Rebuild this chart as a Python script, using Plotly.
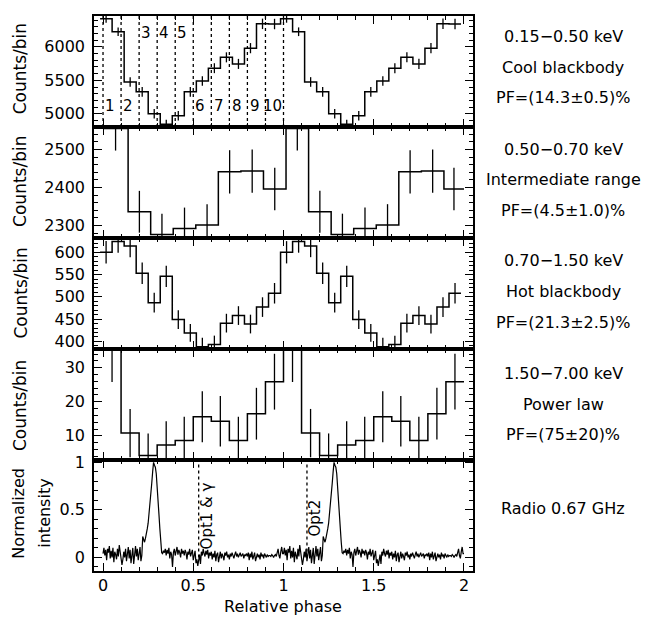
import numpy as np
import plotly.graph_objects as go

# ---------------- data ----------------
# panel 1: 0.15-0.50 keV, 15 bins per cycle (two cycles shown)
p1_edges0 = -0.0163
p1_nbin = 15
p1_counts = [6420, 6225, 5475, 5328, 5000, 4845, 4971, 5328, 5490, 5681,
             5843, 5745, 5980, 6343, 6340]
p1_err = [60, 65, 72, 72, 70, 68, 70, 72, 72, 74, 75, 75, 76, 78, 78]

# panel 2: 0.50-0.70 keV, 8 bins per cycle
p2_edges = [0.0, 0.139, 0.264, 0.389, 0.514, 0.639, 0.764, 0.889, 1.014,
            1.139, 1.264, 1.389, 1.514, 1.639, 1.764, 1.889, 2.0]
p2_counts = [2555, 2336, 2276, 2292, 2301, 2441, 2443, 2396]
p2_err = [58, 55, 55, 55, 55, 57, 57, 56]

# panel 3: 0.70-1.50 keV, 15 bins per cycle
p3_counts = [600, 624, 614, 553, 487, 546, 449, 419, 388, 393,
             441, 458, 439, 477, 508]
p3_err = [25, 25, 25, 24, 22, 24, 21, 20, 20, 20, 21, 21, 21, 22, 23]

# panel 4: 1.50-7.00 keV, 10 bins per cycle
p4_counts = [35.3, 10.8, 4.2, 7.3, 8.6, 15.6, 14.3, 8.6, 16.5, 25.9]
p4_err = [9.5, 7.1, 6.5, 7.0, 7.0, 7.5, 7.4, 7.0, 7.6, 8.2]

# panel 5: radio 0.67 GHz profile, 200 points per cycle
radio_profile = [
    # 0.000 - 0.105
    0.04, 0.10, 0.02, 0.08, -0.03, 0.09, 0.05, 0.12, -0.01, 0.07, 0.00,
    0.10, -0.05, 0.06, 0.03, -0.02, 0.09, 0.01, 0.13, 0.04, -0.03, -0.08,
    # 0.110 - 0.215
    -0.02, 0.06, 0.00, 0.09, -0.04, 0.03, 0.11, -0.01, 0.08, -0.06, 0.02,
    0.10, -0.07, 0.05, 0.12, 0.01, 0.09, -0.03, 0.06, 0.11, -0.04, 0.02,
    # 0.220 - 0.335 (main pulse)
    0.22, 0.19, 0.16, 0.20, 0.24, 0.30, 0.36, 0.45, 0.55, 0.66, 0.78, 0.90,
    1.00, 0.97, 0.95, 0.88, 0.76, 0.60, 0.45, 0.30, 0.16, 0.05, 0.04, 0.07,
    # 0.340 - 0.495
    0.05, 0.09, 0.02, 0.08, 0.04, 0.10, -0.01, 0.06, 0.03, -0.10, 0.05,
    0.09, 0.02, 0.07, 0.11, 0.03, 0.08, 0.05, 0.00, 0.09, 0.04, 0.07,
    0.02, 0.08, 0.05, -0.02, 0.06, 0.03, 0.09, 0.01, 0.05, 0.08,
    # 0.500 - 0.595
    -0.03, 0.04, 0.07, -0.06, -0.02, -0.09, -0.04, 0.03, -0.07, 0.06,
    0.02, 0.09, 0.04, 0.01, 0.07, 0.03, 0.08, -0.01, 0.05, 0.02,
    # 0.600 - 0.795
    0.06, -0.02, 0.04, 0.00, 0.07, -0.04, 0.03, 0.05, -0.05, 0.02,
    0.06, -0.01, 0.04, 0.01, -0.03, 0.05, 0.02, 0.06, 0.00, 0.03,
    -0.02, 0.04, 0.01, 0.05, 0.02, -0.01, 0.03, 0.06, 0.01, 0.04,
    0.00, 0.03, 0.05, 0.01, 0.02, 0.04, -0.01, 0.03, 0.02, 0.04,
    # 0.800 - 0.995
    0.01, 0.05, -0.03, 0.04, 0.00, 0.06, -0.02, 0.03, 0.05, -0.04,
    0.02, 0.04, 0.00, 0.03, -0.02, 0.05, 0.01, 0.03, -0.01, 0.04,
    0.02, 0.00, 0.03, 0.01, 0.02, 0.02, 0.01, 0.03, 0.02, 0.00,
    0.02, 0.03, 0.01, 0.05, 0.09, 0.02, -0.01, 0.06, 0.11, 0.04,
]

opt_lines = [0.53, 1.13]
opt_labels = ["Opt1 &amp; γ", "Opt2"]
region_lines = [0.0, 0.1, 0.2, 0.3, 0.4, 0.5, 0.6, 0.7, 0.8, 0.9, 1.0]
region_labels = ["1", "2", "3", "4", "5", "6", "7", "8", "9", "10"]

energy_text = [
    ["0.15−0.50 keV", "Cool blackbody", "PF=(14.3±0.5)%"],
    ["0.50−0.70 keV", "Intermediate range", "PF=(4.5±1.0)%"],
    ["0.70−1.50 keV", "Hot blackbody", "PF=(21.3±2.5)%"],
    ["1.50−7.00 keV", "Power law", "PF=(75±20)%"],
]

# ---------------- layout geometry ----------------
OFF = 8  # page body margin
W, H = 654, 614
ML, MT, PW, PH = 86, 1, 379, 562
MR = W - ML - PW
MB = H - MT - PH
FONT = "DejaVu Sans"
FS = 16


def pxx(sx):
    return (sx - OFF - ML) / PW


def pxy(sy):
    return (H - MB - (sy - OFF)) / PH


fig = go.Figure()
line = dict(color="black", width=1.5)
ebar = dict(type="data", color="black", thickness=1.3, width=0)


def add_hist(edges, vals, errs, ax):
    x = list(edges)
    y = list(vals) + [vals[-1]]
    fig.add_trace(go.Scatter(x=x, y=y, mode="lines", line=dict(shape="hv", **line),
                             xaxis="x" + ax, yaxis="y" + ax, showlegend=False,
                             hoverinfo="skip"))
    cx = [(edges[i] + edges[i + 1]) / 2 for i in range(len(vals))]
    fig.add_trace(go.Scatter(x=cx, y=vals, mode="markers", marker=dict(size=0.1, color="black"),
                             error_y=dict(array=errs, **ebar),
                             xaxis="x" + ax, yaxis="y" + ax, showlegend=False,
                             hoverinfo="skip"))


e15 = [p1_edges0 + k / p1_nbin for k in range(2 * p1_nbin + 1)]
e10 = [k / 10 for k in range(21)]

add_hist(e15, p1_counts * 2, p1_err * 2, "")
add_hist(p2_edges, p2_counts * 2, p2_err * 2, "2")
add_hist(e15, p3_counts * 2, p3_err * 2, "3")
add_hist(e10, p4_counts * 2, p4_err * 2, "4")

nr = len(radio_profile)
rv = radio_profile * 2 + [radio_profile[0]]
rx = [k / nr for k in range(len(rv))]
fig.add_trace(go.Scatter(x=rx, y=rv, mode="lines", line=dict(color="black", width=1.2),
                         xaxis="x5", yaxis="y5", showlegend=False, hoverinfo="skip"))

# ---------------- axes ----------------
doms = [[0.8, 1.0], [0.6, 0.8], [0.4, 0.6], [0.2, 0.4], [0.0, 0.2]]
yconf = [
    dict(range=[4803, 6460], tickvals=[5000, 5500, 6000], minor_dtick=100),
    dict(range=[2267, 2559], tickvals=[2300, 2400, 2500], minor_dtick=20),
    dict(range=[383, 632], tickvals=[400, 450, 500, 550, 600], minor_dtick=10),
    dict(range=[2.9, 35.5], tickvals=[10, 20, 30], minor_dtick=2),
    dict(range=[-0.143, 1.025], tickvals=[0, 0.5, 1], minor_dtick=0.1),
]
common = dict(showline=True, linecolor="black", linewidth=1.5, mirror="allticks",
              ticks="inside", ticklen=8, tickwidth=1.3, tickcolor="black",
              showgrid=False, zeroline=False,
              tickfont=dict(family=FONT, size=FS, color="black"))
for i in range(5):
    sfx = "" if i == 0 else str(i + 1)
    yc = yconf[i]
    fig.layout["yaxis" + sfx] = dict(
        domain=doms[i], range=yc["range"], tickmode="array", tickvals=yc["tickvals"],
        ticktext=[("%g" % v) for v in yc["tickvals"]],
        minor=dict(ticks="inside", ticklen=4, dtick=yc["minor_dtick"], tickcolor="black",
                   tickwidth=1.1, showgrid=False),
        anchor="x" + sfx, ticklabelstandoff=4, **common)
    fig.layout["xaxis" + sfx] = dict(
        domain=[0, 1], range=[-0.05, 2.05], tickmode="array",
        tickvals=[0, 0.5, 1, 1.5, 2], ticktext=["0", "0.5", "1", "1.5", "2"],
        showticklabels=(i == 4),
        minor=dict(ticks="inside", ticklen=4, dtick=0.1, tick0=0, tickcolor="black",
                   tickwidth=1.1, showgrid=False),
        anchor="y" + sfx, ticklabelstandoff=-1, **common)

# ---------------- shapes ----------------
shapes = []
for xv in region_lines:
    shapes.append(dict(type="line", xref="x", yref="y domain", x0=xv, x1=xv, y0=0, y1=1,
                       line=dict(color="black", width=1.3, dash="dot"), layer="below"))
for xv in opt_lines:
    shapes.append(dict(type="line", xref="x5", yref="y5", x0=xv, x1=xv, y0=0.0, y1=1.0,
                       line=dict(color="black", width=1.3, dash="dot"), layer="below"))
fig.update_layout(shapes=shapes)

# ---------------- annotations ----------------
ann = []
txtf = dict(family=FONT, size=FS, color="black")
C = dict(showarrow=False, xanchor="center", yanchor="middle")
for k, lab in enumerate(region_labels):
    xv = 0.04 + 0.1 * k
    ypx = 26 if k in (2, 3, 4) else 100
    ann.append(dict(x=xv, y=pxy(ypx), xref="x", yref="paper", text=lab,
                    font=dict(family=FONT, size=15, color="black"), **C))
ann.append(dict(x=0.575, y=0.44, xref="x5", yref="y5", text=opt_labels[0], textangle=-90,
                font=dict(family=FONT, size=15, color="black"), **C))
ann.append(dict(x=1.175, y=0.41, xref="x5", yref="y5", text=opt_labels[1], textangle=-90,
                font=dict(family=FONT, size=15, color="black"), **C))

panel_centers = [61, 175, 288, 402]
for i, lines3 in enumerate(energy_text):
    c = panel_centers[i]
    for j, t in enumerate(lines3):
        ann.append(dict(x=pxx(563), y=pxy(c - 31 + 31 * j), xref="paper", yref="paper",
                        text=t, font=txtf, **C))
    ann.append(dict(x=pxx(20), y=pxy(c + 2), xref="paper", yref="paper", text="Counts/bin",
                    textangle=-90, font=dict(family=FONT, size=17, color="black"), **C))
ann.append(dict(x=pxx(563), y=pxy(508), xref="paper", yref="paper", text="Radio 0.67 GHz",
                font=txtf, **C))
ann.append(dict(x=pxx(19), y=pxy(513), xref="paper", yref="paper", text="Normalized",
                textangle=-90, font=txtf, **C))
ann.append(dict(x=pxx(45), y=pxy(513), xref="paper", yref="paper", text="intensity",
                textangle=-90, font=txtf, **C))
ann.append(dict(x=pxx(283), y=pxy(607), xref="paper", yref="paper", text="Relative phase",
                font=txtf, **C))

fig.update_layout(annotations=ann, width=W, height=H,
                  margin=dict(l=ML, r=MR, t=MT, b=MB, pad=0),
                  paper_bgcolor="white", plot_bgcolor="white",
                  font=dict(family=FONT, size=FS, color="black"))

fig.write_html("out.html")
